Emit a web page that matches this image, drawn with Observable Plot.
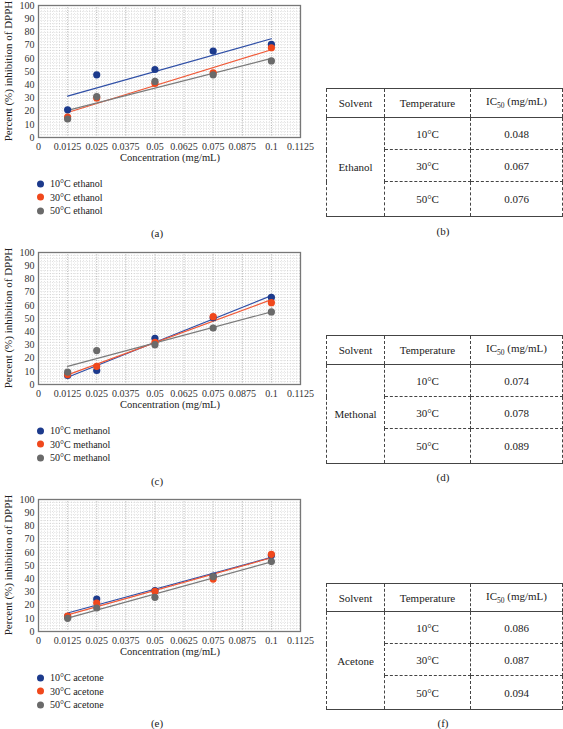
<!DOCTYPE html>
<html>
<head>
<meta charset="utf-8">
<script src="https://cdn.jsdelivr.net/npm/d3@7"></script>
<script src="https://cdn.jsdelivr.net/npm/@observablehq/plot@0.6"></script>
<style>
  body { margin: 0; background: #fff; font-family: 'Liberation Serif', 'DejaVu Serif', serif; color: #222; }
  #root { position: relative; width: 563px; height: 729px; overflow: hidden; }
  #root svg { overflow: visible; }
  #root svg text { font-family: 'Liberation Serif', 'DejaVu Serif', serif; }
  .ylab { position: absolute; white-space: nowrap; font-size: 11px; transform: translate(-50%, -50%) rotate(-90deg); }
  .xlab { position: absolute; white-space: nowrap; font-size: 10.5px; transform: translate(-50%, -50%); }
  .cap { position: absolute; font-size: 11px; transform: translate(-50%, -50%); }
  .leg { position: absolute; font-size: 10px; white-space: nowrap; transform: translateY(-50%); }
  .leg span.dot { display: inline-block; width: 7px; height: 7px; border-radius: 50%; margin-right: 6px; vertical-align: -0.5px; }
  table.ic { position: absolute; border-collapse: collapse; font-size: 11px; table-layout: fixed; }
  table.ic td { text-align: center; padding: 0; border: 1px dashed #444; }
  table.ic tr.h td { border-top: 1.3px solid #444; border-bottom: 1.3px solid #444; }
  table.ic tr.last td, table.ic td.solv { border-bottom: 1.3px solid #444; }
</style>
</head>
<body>
<div id="root"></div>
<script>
// ---- data ----
const conc = [0.0125, 0.025, 0.05, 0.075, 0.1];
const ethanol10 = [21, 47.5, 51.5, 65.5, 70.5];
const ethanol30 = [15.5, 30, 41, 49, 68];
const ethanol50 = [14, 31, 42.5, 47.5, 58];
const methanol10 = [6.8, 10.6, 35, 50.5, 66];
const methanol30 = [7.5, 13.8, 32, 51.4, 62];
const methanol50 = [9.3, 25.7, 30.2, 42.8, 55];
const acetone10 = [11.3, 24.6, 31, 42, 57.5];
const acetone30 = [11.6, 21.6, 30.4, 39.7, 58.5];
const acetone50 = [10, 17.8, 25.9, 41.5, 53];
const temps = ["10°C", "30°C", "50°C"];
const seriesColors = ["#1c3a8c", "#f0481c", "#6a6a6a"];
const lineColors = ["#2f4fa6", "#f05a38", "#7a7a7a"];
const xTicks = [0, 0.0125, 0.025, 0.0375, 0.05, 0.0625, 0.075, 0.0875, 0.1, 0.1125];
const yTicks = [0, 10, 20, 30, 40, 50, 60, 70, 80, 90, 100];
const ic50Ethanol = ["0.048", "0.067", "0.076"];
const ic50Methanol = ["0.074", "0.078", "0.089"];
const ic50Acetone = ["0.086", "0.087", "0.094"];

const root = document.getElementById("root");
const SERIF = "'Liberation Serif', 'DejaVu Serif', serif";

function addEl(tag, cls, html, style) {
  const e = document.createElement(tag);
  if (cls) e.className = cls;
  e.innerHTML = html;
  Object.assign(e.style, style);
  root.appendChild(e);
  return e;
}

function chart(top, series, solventWord, capLetter, capTop) {
  const data = [];
  series.forEach((vals, i) => vals.forEach((v, j) => data.push({x: conc[j], y: v, s: i})));
  const plotH = 132;
  const p = Plot.plot({
    width: 305,
    height: 5 + plotH + 16,
    marginLeft: 38, marginRight: 5, marginTop: 5, marginBottom: 16,
    style: {fontFamily: SERIF, fontSize: "10px", color: "#333", background: "transparent", overflow: "visible"},
    x: {domain: [0, 0.1125]},
    y: {domain: [0, 100]},
    marks: [
      Plot.gridY({ticks: 40, stroke: "#8a8a8a", strokeOpacity: 0.6, strokeWidth: 0.6, strokeDasharray: "0.7,2.3"}),
      Plot.gridX({ticks: 90, stroke: "#8a8a8a", strokeOpacity: 0.65, strokeWidth: 0.6, strokeDasharray: "0.7,2.3"}),
      Plot.gridX(xTicks, {stroke: "#777", strokeOpacity: 0.8, strokeWidth: 0.8, strokeDasharray: "0.8,1.6"}),
      Plot.frame({stroke: "#777", strokeWidth: 1.3}),
      Plot.axisX(xTicks, {tickSize: 0, tickPadding: 5, label: null, tickFormat: d => String(d)}),
      Plot.axisY(yTicks, {tickSize: 0, tickPadding: 4, label: null}),
      Plot.linearRegressionY(data, {x: "x", y: "y", stroke: d => lineColors[d.s], z: "s", ci: 0, strokeWidth: 1.2}),
      Plot.dot(data, {x: "x", y: "y", fill: d => seriesColors[d.s], r: 3.6})
    ]
  });
  p.style.position = "absolute";
  p.style.left = "0px";
  p.style.top = top + "px";
  root.appendChild(p);
  addEl("div", "ylab", "Percent (%) inhibition of DPPH", {left: "8px", top: (top + 5 + plotH / 2) + "px"});
  addEl("div", "xlab", "Concentration (mg/mL)", {left: "170px", top: (top + 157) + "px"});
  temps.forEach((t, i) => {
    addEl("div", "leg", `<span class="dot" style="background:${seriesColors[i]}"></span>${t} ${solventWord}`,
      {left: "37px", top: (top + 183 + i * 13.7) + "px"});
  });
  addEl("div", "cap", `(${capLetter})`, {left: "157px", top: capTop + "px"});
}

function table(top, heights, solvent, vals, capLetter, capTop) {
  const t = document.createElement("table");
  t.className = "ic";
  t.style.left = "326px";
  t.style.top = top + "px";
  t.style.width = "236px";
  t.innerHTML =
    `<colgroup><col style="width:58px"><col style="width:86px"><col style="width:92px"></colgroup>` +
    `<tr class="h" style="height:${heights[0]}px"><td>Solvent</td><td>Temperature</td><td>IC<sub style="font-size:7.5px">50</sub> (mg/mL)</td></tr>` +
    `<tr style="height:${heights[1]}px"><td class="solv" rowspan="3">${solvent}</td><td>${temps[0]}</td><td>${vals[0]}</td></tr>` +
    `<tr style="height:${heights[2]}px"><td>${temps[1]}</td><td>${vals[1]}</td></tr>` +
    `<tr class="last" style="height:${heights[3]}px"><td>${temps[2]}</td><td>${vals[2]}</td></tr>`;
  root.appendChild(t);
  addEl("div", "cap", `(${capLetter})`, {left: "443px", top: capTop + "px"});
}

chart(0, [ethanol10, ethanol30, ethanol50], "ethanol", "a", 233);
chart(247, [methanol10, methanol30, methanol50], "methanol", "c", 481);
chart(494, [acetone10, acetone30, acetone50], "acetone", "e", 723);

table(88, [29, 32, 32, 35], "Ethanol", ic50Ethanol, "b", 231);
table(335, [29, 32, 32, 35], "Methonal", ic50Methanol, "d", 477);
table(583, [28, 32, 32, 34], "Acetone", ic50Acetone, "f", 723);
</script>
</body>
</html>
